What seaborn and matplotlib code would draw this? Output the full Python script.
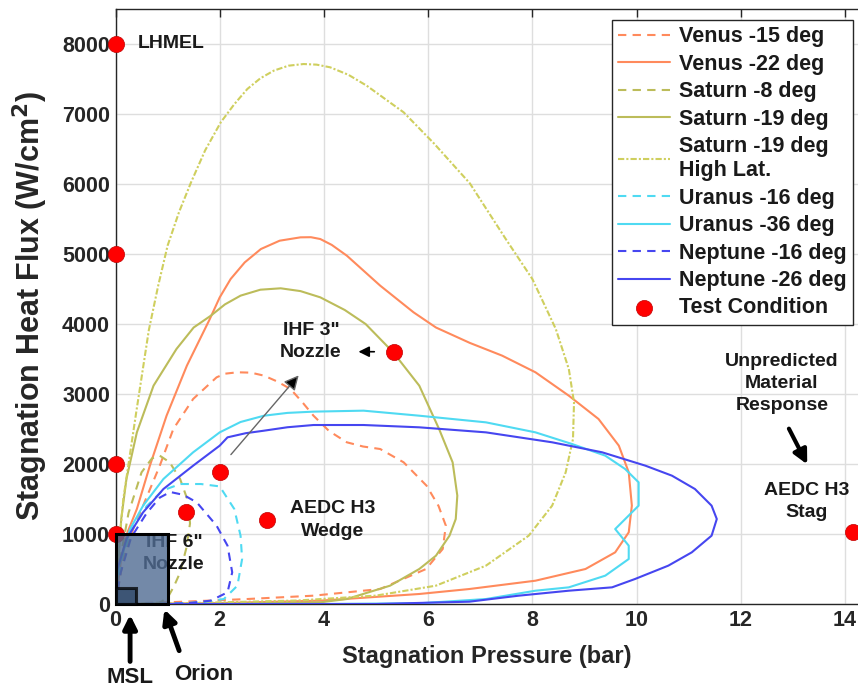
import numpy as np
import pandas as pd
import seaborn as sns
import matplotlib.pyplot as plt
from matplotlib.patches import Rectangle

# trajectory curves (stagnation pressure in bar, heat flux in W/cm^2)
venus15_x = [0, 0.15, 0.34, 0.53, 0.85, 1.11, 1.49, 1.94, 2.10, 2.34, 2.60, 2.85, 3.10, 3.36, 3.60, 3.80, 4.10, 4.44, 4.75, 5.08, 5.53, 5.97, 6.20, 6.34, 6.28, 5.96, 5.08, 3.80, 2.50, 1.20, 0]
venus15_y = [0, 650, 1071, 1405, 1976, 2500, 2929, 3238, 3290, 3310, 3305, 3262, 3180, 3071, 2870, 2690, 2470, 2310, 2250, 2214, 2024, 1690, 1400, 1119, 786, 500, 214, 119, 70, 30, 0]

venus22_x = [0, 0.10, 0.23, 0.41, 0.66, 0.98, 1.37, 1.81, 2.00, 2.21, 2.48, 2.79, 3.15, 3.55, 3.75, 3.93, 4.15, 4.44, 5.08, 5.72, 6.15, 6.80, 7.42, 8.06, 8.70, 9.27, 9.66, 9.85, 9.91, 9.85, 9.59, 9.02, 8.06, 6.79, 5.83, 3.93, 1.80, 0]
venus22_y = [0, 600, 1024, 1357, 1976, 2690, 3405, 4071, 4380, 4643, 4880, 5071, 5190, 5238, 5240, 5214, 5130, 4976, 4548, 4167, 3950, 3730, 3548, 3310, 2976, 2643, 2262, 1881, 1405, 1024, 738, 500, 333, 214, 143, 48, 10, 0]

saturn8_x = [0, 0.08, 0.25, 0.50, 0.70, 0.85, 1.04, 1.24, 1.40, 1.43, 1.36, 1.24, 1.12, 1.0, 0.85, 0.5, 0]
saturn8_y = [0, 600, 1300, 1881, 2080, 2119, 2024, 1786, 1450, 1150, 800, 450, 250, 90, 20, 5, 0]

saturn19_x = [0, 0.11, 0.21, 0.41, 0.73, 1.17, 1.50, 1.83, 2.10, 2.40, 2.78, 3.17, 3.55, 3.93, 4.40, 4.80, 5.33, 5.83, 6.21, 6.47, 6.56, 6.53, 6.41, 6.15, 5.83, 5.27, 4.44, 3.93, 2.0, 0]
saturn19_y = [0, 1214, 1786, 2452, 3119, 3643, 3950, 4119, 4280, 4405, 4490, 4510, 4470, 4381, 4200, 4000, 3595, 3119, 2500, 2024, 1548, 1214, 976, 690, 500, 262, 71, 24, 5, 0]

saturn_hl_x = [0, 0.05, 0.15, 0.40, 0.64, 0.82, 1.0, 1.22, 1.45, 1.72, 2.02, 2.28, 2.53, 2.78, 3.04, 3.32, 3.61, 3.86, 4.12, 4.47, 4.82, 5.53, 6.11, 6.80, 7.49, 8.0, 8.45, 8.70, 8.80, 8.78, 8.64, 8.38, 7.93, 7.11, 6.15, 5.0, 3.5, 1.5, 0]
saturn_hl_y = [0, 700, 1500, 2750, 3914, 4550, 5120, 5600, 6024, 6480, 6881, 7140, 7357, 7510, 7620, 7690, 7714, 7705, 7667, 7560, 7405, 7024, 6581, 6010, 5214, 4643, 3929, 3357, 2881, 2357, 1881, 1405, 976, 548, 262, 120, 50, 15, 0]

uranus16_x = [0, 0.1, 0.3, 0.6, 0.9, 1.24, 1.64, 2.0, 2.28, 2.40, 2.43, 2.34, 2.08, 1.64, 1.0, 0]
uranus16_y = [0, 600, 1050, 1400, 1620, 1714, 1714, 1680, 1357, 976, 643, 262, 71, 24, 5, 0]

uranus36_x = [0, 0.05, 0.28, 0.53, 0.92, 1.49, 2.0, 2.40, 2.85, 3.30, 3.80, 4.76, 5.83, 7.11, 8.06, 8.76, 9.40, 9.78, 10.04, 10.04, 9.59, 9.85, 9.85, 9.40, 8.70, 8.06, 7.11, 5.83, 4.0, 2.0, 0]
uranus36_y = [0, 500, 1071, 1405, 1786, 2167, 2452, 2600, 2690, 2730, 2748, 2762, 2690, 2595, 2452, 2286, 2119, 1929, 1738, 1405, 1071, 833, 643, 405, 238, 190, 71, 10, 0, 0, 0]

neptune16_x = [0, 0.1, 0.3, 0.6, 0.85, 1.05, 1.30, 1.56, 1.94, 2.15, 2.24, 2.15, 1.83, 1.38, 0.8, 0]
neptune16_y = [0, 450, 950, 1300, 1520, 1600, 1560, 1452, 1119, 833, 452, 167, 48, 10, 3, 0]

neptune26_x = [0, 0.02, 0.21, 0.53, 0.92, 1.49, 2.0, 2.15, 2.50, 2.85, 3.30, 3.80, 4.76, 5.83, 7.11, 8.38, 9.34, 10.17, 10.68, 11.12, 11.44, 11.54, 11.44, 11.06, 10.61, 9.97, 9.53, 8.70, 7.74, 6.79, 5.0, 2.0, 0]
neptune26_y = [0, 452, 929, 1310, 1643, 1976, 2262, 2381, 2440, 2476, 2525, 2557, 2557, 2524, 2452, 2310, 2167, 1976, 1833, 1643, 1405, 1214, 976, 738, 548, 357, 238, 190, 119, 33, 0, 0, 0]

# test conditions
test_x = [0, 0, 0, 0, 1.35, 2.01, 2.91, 5.35, 14.16]
test_y = [8000, 5000, 2000, 1000, 1320, 1890, 1200, 3596, 1030]

# flight envelopes (pressure, heat flux)
orion_box = [1.0, 1000]
msl_box = [0.4, 230]

sns.set_style("whitegrid")
plt.rcParams["font.family"] = ["Liberation Sans", "DejaVu Sans"]
plt.rcParams["font.weight"] = "bold"

fig = plt.figure(figsize=(8.58, 6.91), dpi=100)
ax = fig.add_axes([115.5 / 858, 1 - 604 / 691, (858 - 115.5) / 858, (604 - 9) / 691])

orange = "#ff8a5c"
olive = "#bcbc5a"
pale = "#cfcf5e"
cyan = "#4fdaf2"
blue = "#4646f0"

curves = [
    (venus15_x, venus15_y, orange, (0, (4, 3)), "Venus -15 deg"),
    (venus22_x, venus22_y, orange, "-", "Venus -22 deg"),
    (saturn8_x, saturn8_y, olive, (0, (4, 3)), "Saturn -8 deg"),
    (saturn19_x, saturn19_y, olive, "-", "Saturn -19 deg"),
    (saturn_hl_x, saturn_hl_y, pale, (0, (3, 1, 1, 1)), "Saturn -19 deg\nHigh Lat."),
    (uranus16_x, uranus16_y, cyan, (0, (4, 3)), "Uranus -16 deg"),
    (uranus36_x, uranus36_y, cyan, "-", "Uranus -36 deg"),
    (neptune16_x, neptune16_y, blue, (0, (4, 3)), "Neptune -16 deg"),
    (neptune26_x, neptune26_y, blue, "-", "Neptune -26 deg"),
]
for xs, ys, c, ls, lab in curves:
    df = pd.DataFrame({"p": xs, "q": ys})
    sns.lineplot(data=df, x="p", y="q", sort=False, estimator=None, color=c,
                 linestyle=ls, linewidth=1.5, label=lab, ax=ax, zorder=3,
                 solid_joinstyle="round")

sns.scatterplot(x=test_x, y=test_y, s=135, color="#ff0000", edgecolor="#c00000",
                linewidth=0.5, zorder=5, clip_on=False, label="Test Condition", ax=ax)

# text labels
tk = dict(fontsize=14, fontweight="bold", color="#1a1a1a", ha="center", va="center",
          linespacing=1.4)
ax.text(0.43, 8000, "LHMEL", **{**tk, "ha": "left"})
ax.text(3.75, 3750, "IHF 3\"\nNozzle", **tk, zorder=7)
ax.text(4.16, 1200, "AEDC H3\nWedge", **tk)
ax.text(1.12, 724, "IHF 6\"\nNozzle", **tk, zorder=4)
ax.text(12.79, 3153, "Unpredicted\nMaterial\nResponse", **tk)
ax.text(13.27, 1461, "AEDC H3\nStag", **tk)
ax.text(0.28, -1043, "MSL", **{**tk, "fontsize": 16}, clip_on=False)
ax.text(1.69, -1014, "Orion", **{**tk, "fontsize": 16}, clip_on=False)

# arrows
ax.annotate("", xy=(3.55, 3296), xytext=(2.18, 2104),
            arrowprops=dict(arrowstyle="-|>", ec="#666666", fc="k", lw=1, mutation_scale=22))
ax.annotate("", xy=(4.61, 3604), xytext=(5.02, 3604),
            arrowprops=dict(arrowstyle="-|>", color="k", lw=1.2, mutation_scale=16))
ax.annotate("", xy=(13.30, 1960), xytext=(12.90, 2540),
            arrowprops=dict(arrowstyle="-|>", color="k", lw=3, mutation_scale=21))
ax.annotate("", xy=(0.28, -114), xytext=(0.28, -860), annotation_clip=False,
            arrowprops=dict(arrowstyle="-|>", color="k", lw=3.5, mutation_scale=20))
ax.annotate("", xy=(0.92, -39), xytext=(1.24, -704), annotation_clip=False,
            arrowprops=dict(arrowstyle="-|>", color="k", lw=3.5, mutation_scale=20))

# envelope boxes
ax.add_patch(Rectangle((0, 0), orion_box[0], orion_box[1], facecolor="#506c93",
                       alpha=0.8, edgecolor="none", zorder=6))
ax.add_patch(Rectangle((0, 0), orion_box[0], orion_box[1], facecolor="none",
                       edgecolor="k", lw=2.2, zorder=6, clip_on=False))
ax.add_patch(Rectangle((0, 0), msl_box[0], msl_box[1], facecolor="#2c4465",
                       alpha=0.75, edgecolor="k", lw=2.2, zorder=6, clip_on=False))

ax.set_xlim(0, 14.25)
ax.set_ylim(0, 8500)
ax.set_xticks(range(0, 15, 2))
ax.set_yticks(range(0, 8001, 1000))
ax.grid(True, color="#dedede", lw=1)
ax.tick_params(axis="both", direction="in", length=6, width=1, labelsize=15.5,
               labelcolor="#262626", color="#262626", top=True, right=False, pad=4)
for t in ax.get_xticklabels() + ax.get_yticklabels():
    t.set_fontweight("bold")
for side in ["left", "bottom", "top"]:
    ax.spines[side].set_color("#262626")
    ax.spines[side].set_linewidth(1)
ax.spines["right"].set_visible(False)

ax.set_xlabel("Stagnation Pressure (bar)", fontsize=17, fontweight="bold", color="#262626")
ax.set_ylabel("Stagnation Heat Flux (W/cm$^\\mathbf{2}$)", fontsize=22, fontweight="bold", color="#262626")
ax.xaxis.set_label_coords(0.5, -0.069)
ax.yaxis.set_label_coords(-0.088, 0.5)

handles, labels = ax.get_legend_handles_labels()
leg = ax.legend(handles, labels, loc="upper right", bbox_to_anchor=(0.993, 0.982),
                borderaxespad=0, fontsize=15.5, frameon=True, fancybox=False,
                edgecolor="#262626", framealpha=1, handlelength=2.4,
                handletextpad=0.4, labelspacing=0.3, borderpad=0.3)
leg.get_frame().set_linewidth(1)
for t in leg.get_texts():
    t.set_fontweight("bold")
    t.set_color("#1a1a1a")

fig.savefig("out.png", dpi=100)
